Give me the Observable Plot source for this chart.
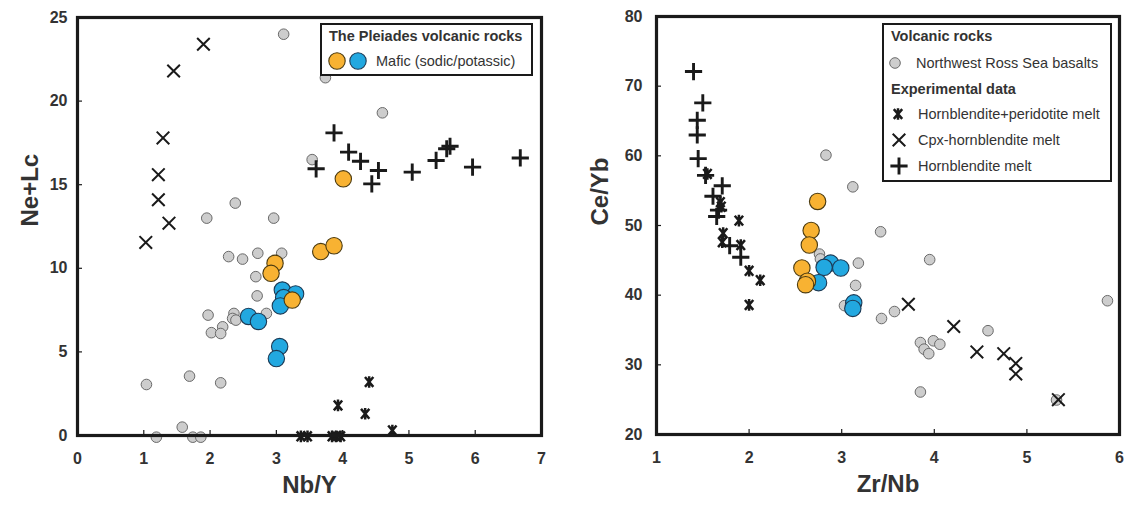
<!DOCTYPE html>
<html><head><meta charset="utf-8">
<script src="https://cdn.jsdelivr.net/npm/d3@7"></script>
<script src="https://cdn.jsdelivr.net/npm/@observablehq/plot@0.6"></script>
<style>
body{margin:0;background:#fff;font-family:"Liberation Sans",Arial,sans-serif;}
#wrap{position:relative;width:1131px;height:508px;overflow:hidden;background:#fff;}
.panel{position:absolute;top:0;}
.legend{position:absolute;border:2px solid #1a1a1a;background:#fff;box-sizing:border-box;color:#333;font-size:14.5px;}
.legend .t{position:absolute;line-height:16px;white-space:nowrap;}
.legend .b{font-weight:bold;}
.legend svg{position:absolute;overflow:visible;}
</style>
</head><body>
<div id="wrap">
  <div class="panel" id="left" style="left:0"></div>
  <div class="panel" id="right" style="left:565px"></div>
  <div class="legend" id="legL" style="left:320px;top:23px;width:213px;height:53px;"></div>
  <div class="legend" id="legR" style="left:882px;top:23px;width:230px;height:159px;"></div>
</div>
<script>
// ---------- Left panel: Nb/Y vs Ne+Lc ----------
const leftXTicks = [0,1,2,3,4,5,6,7];
const leftYTicks = [0,5,10,15,20,25];
const leftXLabel = "Nb/Y";
const leftYLabel = "Ne+Lc";
const leftRoss = [[3.11,24.0],[3.74,21.4],[4.6,19.3],[3.54,16.5],[2.38,13.9],[1.95,13.0],[2.96,13.0],[2.28,10.7],[2.49,10.55],[2.72,10.9],[3.08,10.9],[2.69,9.5],[2.71,8.35],[1.97,7.2],[2.36,7.3],[2.34,7.0],[2.39,6.9],[2.85,7.3],[2.19,6.5],[2.02,6.15],[2.16,6.1],[1.04,3.05],[1.69,3.55],[2.16,3.15],[1.58,0.5],[1.19,-0.1],[1.74,-0.1],[1.86,-0.1]];
const leftSodic = [[4.01,15.35],[3.67,11.0],[3.87,11.35],[2.98,10.3],[2.92,9.7],[3.24,8.1]];
const leftPotassic = [[3.09,8.7],[3.29,8.47],[3.11,8.25],[3.06,7.75],[2.58,7.12],[2.73,6.82],[3.05,5.32],[3.0,4.6]];
const leftHbPer = [[4.4,3.2],[3.93,1.8],[4.34,1.3],[4.75,0.3],[3.37,-0.05],[3.47,-0.05],[3.84,-0.05],[3.9,-0.05],[3.97,-0.05]];
const leftCpxHb = [[1.9,23.4],[1.45,21.8],[1.29,17.8],[1.22,15.6],[1.22,14.1],[1.38,12.7],[1.03,11.55]];
const leftHb = [[3.87,18.1],[4.09,16.95],[4.27,16.4],[3.6,15.95],[4.54,15.85],[4.44,15.05],[5.05,15.75],[5.41,16.45],[5.57,17.15],[5.62,17.3],[5.96,16.05],[6.68,16.6]];

// ---------- Right panel: Zr/Nb vs Ce/Yb ----------
const rightXTicks = [1,2,3,4,5,6];
const rightYTicks = [20,30,40,50,60,70,80];
const rightXLabel = "Zr/Nb";
const rightYLabel = "Ce/Yb";
const rightRoss = [[2.83,60.1],[3.12,55.55],[3.42,49.1],[3.95,45.1],[2.76,45.9],[2.77,45.2],[3.18,44.6],[3.15,41.4],[3.03,38.5],[3.43,36.65],[3.57,37.65],[3.85,33.2],[3.89,32.25],[3.94,31.6],[3.99,33.45],[4.06,32.95],[3.85,26.1],[4.58,34.9],[5.87,39.2],[5.32,24.95]];
const rightSodic = [[2.74,53.45],[2.67,49.3],[2.65,47.2],[2.57,43.9],[2.63,42.0],[2.61,41.5]];
const rightPotassic = [[2.88,44.6],[2.81,44.0],[2.99,43.9],[2.75,41.8],[3.13,38.9],[3.12,38.1]];
const rightHbPer = [[1.55,57.4],[1.69,53.35],[1.70,52.7],[1.89,50.7],[1.72,48.9],[1.71,47.6],[1.91,47.2],[2.0,43.5],[2.12,42.15],[2.0,38.6]];
const rightCpxHb = [[3.72,38.7],[4.21,35.5],[4.46,31.85],[4.75,31.6],[4.88,30.2],[4.88,28.7],[5.34,25.0]];
const rightHb = [[1.40,72.1],[1.50,67.6],[1.44,65.1],[1.44,63.0],[1.45,59.6],[1.53,57.2],[1.71,55.7],[1.61,54.2],[1.67,52.2],[1.65,51.3],[1.79,47.1],[1.91,45.45]];

// legend texts
const legLTitle = "The Pleiades volcanic rocks";
const legLItem = "Mafic (sodic/potassic)";
const legRTitle1 = "Volcanic rocks";
const legRRoss = "Northwest Ross Sea basalts";
const legRTitle2 = "Experimental data";
const legRHbPer = "Hornblendite+peridotite melt";
const legRCpx = "Cpx-hornblendite melt";
const legRHb = "Hornblendite melt";

const COL_SODIC = "#f8b232", COL_POT = "#22a8e0", COL_GRAY = "#cdcdcd";

// custom symbols
const symPlus = {draw(c, s){const r=Math.sqrt(s/Math.PI); c.moveTo(-r,0);c.lineTo(r,0);c.moveTo(0,-r);c.lineTo(0,r);}};
const symTimes = {draw(c, s){const r=Math.sqrt(s/Math.PI); c.moveTo(-r,-r);c.lineTo(r,r);c.moveTo(r,-r);c.lineTo(-r,r);}};
const symAst = {draw(c, s){const r=Math.sqrt(s/Math.PI); c.moveTo(0,-r);c.lineTo(0,r);c.moveTo(-0.72*r,-0.85*r);c.lineTo(0.72*r,0.85*r);c.moveTo(0.72*r,-0.85*r);c.lineTo(-0.72*r,0.85*r);}};

function panel(o){
  return Plot.plot({
    width:o.width, height:508,
    marginLeft:o.ml, marginRight:o.mr, marginTop:o.mt, marginBottom:o.mb,
    x:{domain:o.xd}, y:{domain:o.yd},
    style:{fontFamily:"'Liberation Sans', Arial, sans-serif", background:"transparent", color:"#333"},
    marks:[
      Plot.dot(o.ross,{x:d=>d[0],y:d=>d[1],r:5.3,fill:COL_GRAY,stroke:"#6a6a6a",strokeWidth:1}),
      Plot.dot(o.pot,{x:d=>d[0],y:d=>d[1],r:8.2,fill:COL_POT,stroke:"#1c3a55",strokeWidth:1.1}),
      Plot.dot(o.sod,{x:d=>d[0],y:d=>d[1],r:8.2,fill:COL_SODIC,stroke:"#4a3a10",strokeWidth:1.1}),
      Plot.dot(o.ast,{x:d=>d[0],y:d=>d[1],r:5.8,symbol:symAst,stroke:"#1a1a1a",strokeWidth:2.5,fill:"none"}),
      Plot.dot(o.cpx,{x:d=>d[0],y:d=>d[1],r:6.3,symbol:symTimes,stroke:"#1a1a1a",strokeWidth:2,fill:"none"}),
      Plot.dot(o.hb,{x:d=>d[0],y:d=>d[1],r:8.6,symbol:symPlus,stroke:"#1a1a1a",strokeWidth:2.9,fill:"none"}),
      Plot.axisX(o.xt,{tickSize:-5,tickPadding:22,label:null,fontSize:16,fontWeight:"bold",stroke:"#1a1a1a",strokeWidth:1.2}),
      Plot.axisY(o.yt,{tickSize:-5,tickPadding:o.ypad,label:null,fontSize:16,fontWeight:"bold",stroke:"#1a1a1a",strokeWidth:1.2}),
      Plot.frame({stroke:"#1a1a1a",strokeWidth:3.2}),
      Plot.text([o.xl],{frameAnchor:"bottom",dy:57,text:d=>d,fontSize:24,fontWeight:"bold",fill:"#333"}),
      Plot.text([o.yl],{frameAnchor:"left",dx:o.yldx,rotate:-90,text:d=>d,fontSize:24,fontWeight:"bold",fill:"#333"})
    ]
  });
}

document.getElementById("left").append(panel({
  width:565, ml:77, mr:24, mt:17, mb:73, xd:[0,7], yd:[0,25],
  ross:leftRoss, pot:leftPotassic, sod:leftSodic, ast:leftHbPer, cpx:leftCpxHb, hb:leftHb,
  xt:leftXTicks, yt:leftYTicks, ypad:15, xl:leftXLabel, yl:leftYLabel, yldx:-47
}));
document.getElementById("right").append(panel({
  width:566, ml:91, mr:12, mt:16, mb:74, xd:[1,6], yd:[20,80],
  ross:rightRoss, pot:rightPotassic, sod:rightSodic, ast:rightHbPer, cpx:rightCpxHb, hb:rightHb,
  xt:rightXTicks, yt:rightYTicks, ypad:19, xl:rightXLabel, yl:rightYLabel, yldx:-56
}));

// ---------- legends ----------
function txt(parent, s, left, top, bold){
  const d=document.createElement("div"); d.className="t"+(bold?" b":""); d.textContent=s;
  d.style.left=left+"px"; d.style.top=top+"px"; parent.append(d);
}
function sym(parent, cx, cy, inner){
  const ns="http://www.w3.org/2000/svg";
  const s=document.createElementNS(ns,"svg");
  s.setAttribute("width",20); s.setAttribute("height",20);
  s.style.left=(cx-10)+"px"; s.style.top=(cy-10)+"px";
  s.innerHTML=`<g transform="translate(10,10)">${inner}</g>`;
  parent.append(s);
}
const legL=document.getElementById("legL");
txt(legL, legLTitle, 7, 3, true);
sym(legL, 14.5, 36, `<circle r="8.2" fill="${COL_SODIC}" stroke="#4a3a10" stroke-width="1.1"/>`);
sym(legL, 36, 36, `<circle r="8.2" fill="${COL_POT}" stroke="#1c3a55" stroke-width="1.1"/>`);
txt(legL, legLItem, 54, 28, false);

const legR=document.getElementById("legR");
txt(legR, legRTitle1, 7, 3, true);
sym(legR, 11, 37.5, `<circle r="5.3" fill="${COL_GRAY}" stroke="#6a6a6a"/>`);
txt(legR, legRRoss, 32, 29.5, false);
txt(legR, legRTitle2, 7, 55.5, true);
sym(legR, 14, 89, `<path d="M0,-5.8V5.8M-4.2,-4.9L4.2,4.9M4.2,-4.9L-4.2,4.9" stroke="#1a1a1a" stroke-width="2.5" fill="none"/>`);
txt(legR, legRHbPer, 34, 81, false);
sym(legR, 15, 115, `<path d="M-6.3,-6.3L6.3,6.3M6.3,-6.3L-6.3,6.3" stroke="#1a1a1a" stroke-width="2" fill="none"/>`);
txt(legR, legRCpx, 34, 107, false);
sym(legR, 15, 140.7, `<path d="M-8.6,0H8.6M0,-8.6V8.6" stroke="#1a1a1a" stroke-width="2.9" fill="none"/>`);
txt(legR, legRHb, 34, 132.7, false);
</script>
</body></html>
